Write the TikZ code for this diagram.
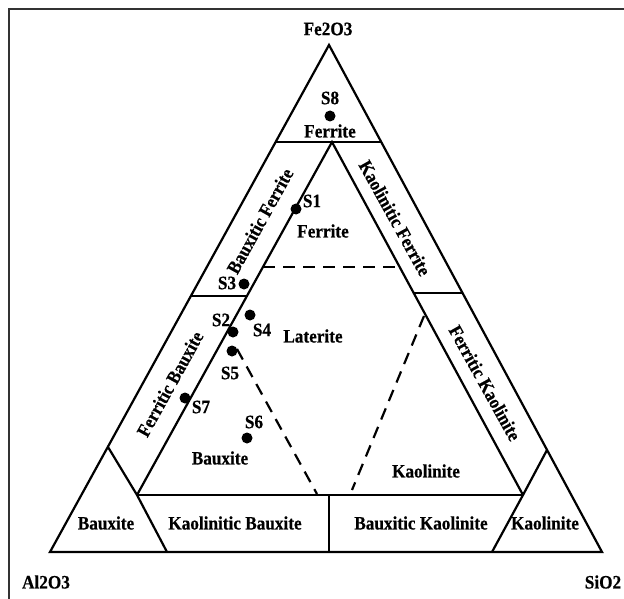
\documentclass[tikz,border=0pt]{standalone}
\usepackage{fontspec}
\setmainfont{Liberation Serif}[BoldFeatures={FakeBold=0.6}]
\newcommand\tallbox[1]{\scalebox{1}[1.1]{#1}}
\begin{document}
\begin{tikzpicture}[x=1pt,y=-1pt,
  edge/.style={line width=2.2pt},
  dashline/.style={line width=2.2pt, dash pattern=on 12pt off 8pt},
  framestyle/.style={line width=1.6pt, black!80},
  lbl/.style={font=\bfseries\fontsize{17.2}{20}\selectfont, inner sep=0pt},
  dot/.style={circle, fill=black, inner sep=0pt, minimum width=10pt, minimum height=11pt}]
\useasboundingbox (0,0) rectangle (624,599);
\draw[framestyle] (9,620) -- (9,9) -- (640,9);
% vertices
\coordinate (A) at (329,45);
\coordinate (L) at (50,552);
\coordinate (R) at (602,552);
\coordinate (T1) at (275.5,142);
\coordinate (T2) at (381,142);
\coordinate (IA) at (332,142);
\coordinate (IL) at (137,495);
\coordinate (IR) at (523,495);
\coordinate (SL) at (108,447);
\coordinate (SLb) at (167,552);
\coordinate (SR) at (547,450);
\coordinate (SRb) at (492,552);
\coordinate (BM) at (329,495);
\coordinate (BMb) at (329,552);
\coordinate (LS1) at (191,296);
\coordinate (LS2) at (246.5,296);
\coordinate (RS1) at (413.7,293);
\coordinate (RS2) at (462.5,293);
\coordinate (DH1) at (263,267);
\coordinate (DH2) at (399.5,267);
\coordinate (DL1) at (237,349);
\coordinate (DL2) at (317,494);
\coordinate (DR1) at (424,316);
\coordinate (DR2) at (352,490);
% lines
\draw[edge] (A) -- (L) -- (R) -- cycle;
\draw[edge] (T1) -- (T2);
\draw[edge] (IL) -- (IA) -- (IR);
\draw[edge] (IL) -- (IR);
\draw[edge] (SLb) -- (IL) -- (SL);
\draw[edge] (SRb) -- (IR) -- (SR);
\draw[edge] (BM) -- (BMb);
\draw[edge] (LS1) -- (LS2);
\draw[edge] (RS1) -- (RS2);
\draw[dashline] (DH1) -- (DH2);
\draw[dashline] (DL1) -- (DL2);
\draw[dashline] (DR1) -- (DR2);
% apex labels
\node[lbl] (fe) at (328,29) {\tallbox{Fe2O3}};
\node[lbl] (al) at (46,582) {\tallbox{Al2O3}};
\node[lbl] (si) at (603,582) {\tallbox{SiO2}};
% region labels
\node[lbl] (ferr1) at (330,131) {\tallbox{Ferrite}};
\node[lbl] (ferr2) at (323,231) {\tallbox{Ferrite}};
\node[lbl] (lat) at (313,336) {\tallbox{Laterite}};
\node[lbl] (baux1) at (220,458) {\tallbox{Bauxite}};
\node[lbl] (kaol1) at (426,471) {\tallbox{Kaolinite}};
\node[lbl] (baux2) at (106,523) {\tallbox{Bauxite}};
\node[lbl] (kb) at (235,523) {\tallbox{Kaolinitic Bauxite}};
\node[lbl] (bk) at (421,523) {\tallbox{Bauxitic Kaolinite}};
\node[lbl] (kaol2) at (545,523) {\tallbox{Kaolinite}};
\node[lbl, rotate=61] (bf) at (260,221) {\tallbox{Bauxitic Ferrite}};
\node[lbl, rotate=61] (fb) at (170,384) {\tallbox{Ferritic Bauxite}};
\node[lbl, rotate=-61] (kf) at (395,218) {\tallbox{Kaolinitic Ferrite}};
\node[lbl, rotate=-61] (fk) at (485,383) {\tallbox{Ferritic Kaolinite}};
% sample points
\node[dot] (s8) at (330,116) {};
\node[lbl] (s8l) at (330,98) {\tallbox{S8}};
\node[dot] (s1) at (296,209) {};
\node[lbl] (s1l) at (312,201) {\tallbox{S1}};
\node[dot] (s3) at (244,284) {};
\node[lbl] (s3l) at (227,283) {\tallbox{S3}};
\node[dot] (s2) at (233,332) {};
\node[lbl] (s2l) at (221,320) {\tallbox{S2}};
\node[dot] (s4) at (250,315) {};
\node[lbl] (s4l) at (262,330) {\tallbox{S4}};
\node[dot] (s5) at (232,351) {};
\node[lbl] (s5l) at (230,373) {\tallbox{S5}};
\node[dot] (s7) at (185,398) {};
\node[lbl] (s7l) at (201,407) {\tallbox{S7}};
\node[dot] (s6) at (247,438) {};
\node[lbl] (s6l) at (254,422) {\tallbox{S6}};
\end{tikzpicture}
\end{document}
